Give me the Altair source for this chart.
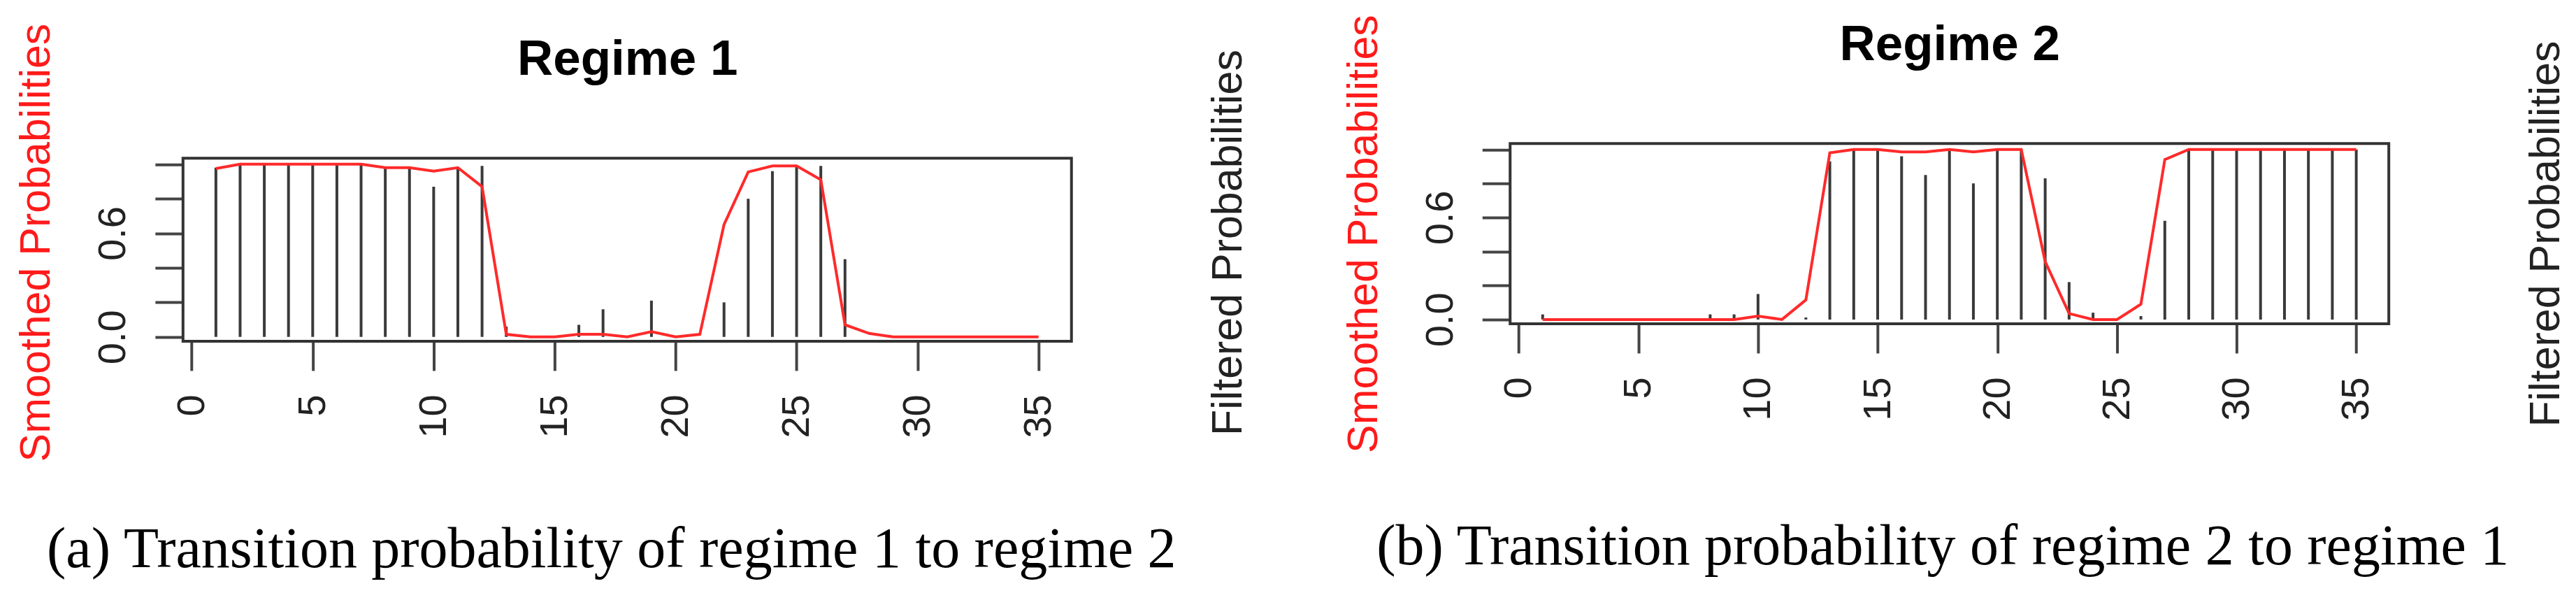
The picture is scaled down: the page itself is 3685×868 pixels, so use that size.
import altair as alt
import pandas as pd

t = list(range(1, 36))

a_filtered = [0.98, 1.0, 1.0, 1.0, 1.0, 1.0, 1.0, 0.98, 0.98, 0.87, 0.98, 0.99,
              0.06, 0.0, 0.0, 0.07, 0.16, 0.0, 0.21, 0.0, 0.0, 0.2, 0.8, 0.96,
              0.99, 0.99, 0.45, 0.0, 0.0, 0.0, 0.0, 0.0, 0.0, 0.0, 0.0]
a_smoothed = [0.975, 1.0, 1.0, 1.0, 1.0, 1.0, 1.0, 0.98, 0.98, 0.96, 0.98, 0.87,
              0.015, 0.0, 0.0, 0.015, 0.015, 0.0, 0.03, 0.0, 0.015, 0.65, 0.955, 0.99,
              0.99, 0.91, 0.07, 0.02, 0.0, 0.0, 0.0, 0.0, 0.0, 0.0, 0.0]

b_filtered = [0.03, 0.0, 0.0, 0.0, 0.0, 0.0, 0.0, 0.03, 0.03, 0.15, 0.0, 0.012,
              0.93, 1.0, 1.0, 0.96, 0.85, 1.0, 0.80, 1.0, 1.0, 0.83, 0.22, 0.04,
              0.0, 0.02, 0.58, 1.0, 1.0, 1.0, 1.0, 1.0, 1.0, 1.0, 1.0]
b_smoothed = [0.0, 0.0, 0.0, 0.0, 0.0, 0.0, 0.0, 0.0, 0.0, 0.02, 0.0, 0.115,
              0.98, 1.0, 1.0, 0.985, 0.985, 1.0, 0.985, 1.0, 1.0, 0.34, 0.035, 0.0,
              0.0, 0.09, 0.94, 1.0, 1.0, 1.0, 1.0, 1.0, 1.0, 1.0, 1.0]

x_ticks = [0, 5, 10, 15, 20, 25, 30, 35]
y_ticks = [0.0, 0.2, 0.4, 0.6, 0.8, 1.0]

# plotting region of each panel (R-style 4% / small expansion)
x_lim = [-0.36, 36.36]
y_lim = [-0.025, 1.035]

titles = ["Regime 1", "Regime 2"]
captions = ["(a) Transition probability of regime 1 to regime 2",
            "(b) Transition probability of regime 2 to regime 1"]

SANS = "Liberation Sans"
SERIF = "Liberation Serif"
FRAME = "#333333"


def panel(title, filt, smooth, caption, width, box_h, extra_top, cap_pad, cap_x):
    df = pd.DataFrame({"t": t, "filtered": filt, "smoothed": smooth,
                       "zero": [0.0] * len(t)})
    frame_df = pd.DataFrame({"x0": [x_lim[0]], "x1": [x_lim[1]],
                             "y0": [y_lim[0]], "y1": [y_lim[1]]})
    per_px = (y_lim[1] - y_lim[0]) / box_h
    y_dom = [y_lim[0], y_lim[1] + extra_top * per_px]
    height = box_h + extra_top

    xscale = alt.Scale(domain=x_lim, nice=False, zero=False)
    yscale = alt.Scale(domain=y_dom, nice=False, zero=False)

    x_bottom = alt.Axis(
        orient="bottom", values=x_ticks, labelAngle=270, labelAlign="right",
        labelBaseline="middle", tickSize=42, tickWidth=4, tickColor="#444444",
        domain=False, grid=False, labelFont=SANS, labelFontSize=56,
        labelPadding=34, labelColor="#222222", labelOverlap=False, labelFlush=False,
        title=caption, titleFont=SERIF, titleFontSize=82, titleFontWeight="normal",
        titleColor="black", titlePadding=cap_pad, titleX=cap_x, titleAlign="center")
    x_top = alt.Axis(
        orient="top", ticks=False, labels=False, domain=False, grid=False,
        title=title, titleFont=SANS, titleFontSize=71, titleFontWeight="bold",
        titleColor="black", titleBaseline="alphabetic",
        titlePadding=120 - extra_top)

    frame = alt.Chart(frame_df).mark_rect(
        fillOpacity=0, stroke=FRAME, strokeWidth=4).encode(
        x=alt.X("x0:Q", scale=xscale, axis=None),
        x2="x1:Q",
        y=alt.Y("y0:Q", scale=yscale, axis=None),
        y2="y1:Q",
    )
    spikes = alt.Chart(df).mark_rule(color="#3a3a3a", strokeWidth=4).encode(
        x=alt.X("t:Q", scale=xscale, axis=x_bottom),
        y=alt.Y("zero:Q", scale=yscale, axis=alt.Axis(
            orient="right", title="Filtered Probabilities", labels=False,
            ticks=False, domain=False, grid=False, titleAngle=270,
            titleBaseline="top", titleAlign="center", titleFont=SANS,
            titleFontSize=61, titleFontWeight="normal", titleColor="#222222",
            titlePadding=195)),
        y2="filtered:Q",
    )
    line = alt.Chart(df).mark_line(color="#ff2a2a", strokeWidth=4).encode(
        x=alt.X("t:Q", scale=xscale, axis=x_top),
        y=alt.Y("smoothed:Q", scale=yscale, axis=alt.Axis(
            orient="left", values=y_ticks,
            labelExpr="abs(datum.value) < 0.001 || abs(datum.value - 0.6) < 0.001 ? format(datum.value, '.1f') : ''",
            labelAngle=270, labelAlign="center", labelBaseline="bottom",
            labelFont=SANS, labelFontSize=56, labelColor="#222222",
            labelPadding=31, tickSize=40, tickWidth=4, tickColor="#444444",
            domain=False, grid=False, title="Smoothed Probabilities",
            titleFont=SANS, titleFontSize=61, titleFontWeight="normal",
            titleColor="#ff1a1a", titlePadding=50)),
    )
    return (alt.layer(frame, spikes, line)
            .resolve_scale(y="independent")
            .resolve_axis(x="independent")
            .properties(width=width, height=height))


pa = panel(titles[0], a_filtered, a_smoothed, captions[0], 1272, 262, 21, 120, 613)
pb = panel(titles[1], b_filtered, b_smoothed, captions[1], 1258, 258, 0, 141, 619)

chart = (alt.hconcat(pa, pb, spacing=132)
         .properties(padding={"left": 13, "top": 12, "right": 5, "bottom": 5},
                     background="white")
         .configure_view(stroke=None))

chart.save("out.html", embed_options={"renderer": "svg", "actions": False})
